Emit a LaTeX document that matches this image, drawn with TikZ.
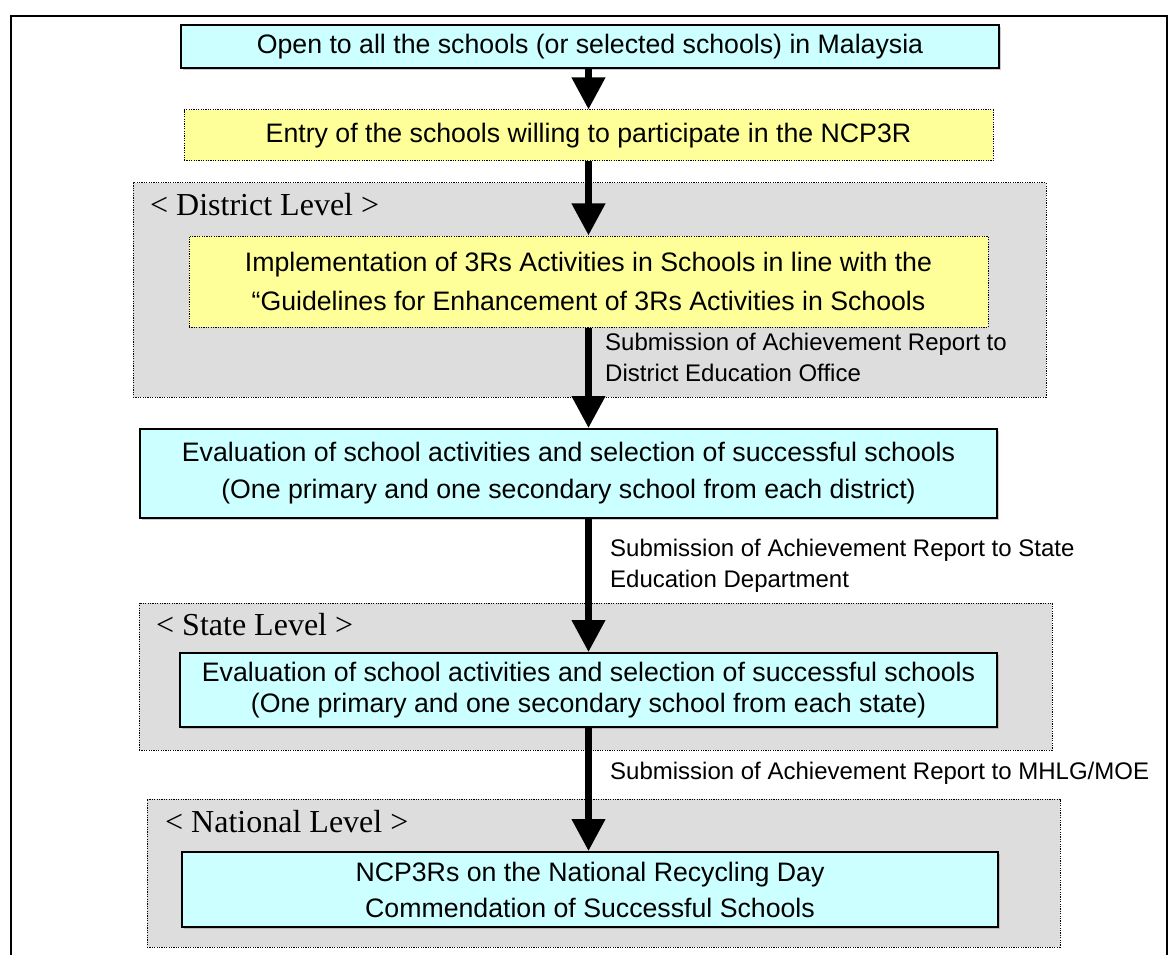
\documentclass[tikz,border=0pt]{standalone}
\usepackage{fontspec}
\setmainfont{Liberation Sans}
\newfontfamily\levelfont{Liberation Serif}
\usepackage{tikz}
\usetikzlibrary{arrows.meta, calc, shadows}

\definecolor{boxcyan}{RGB}{204,255,255}
\definecolor{boxyellow}{RGB}{255,255,153}
\definecolor{panelgrey}{RGB}{221,221,221}

\begin{document}
\begin{tikzpicture}[x=1pt, y=-1pt,
		cyanbox/.style={draw, line width=1.8pt, fill=boxcyan, inner sep=0pt, align=center,
			font=\fontsize{26.7pt}{32pt}\selectfont,
			drop shadow={shadow xshift=2pt, shadow yshift=-2pt, fill=black!40}},
		yellowbox/.style={draw, line width=1pt, dash pattern=on 1.2pt off 1.2pt, fill=boxyellow,
			inner sep=0pt, align=center, font=\fontsize{26.7pt}{39pt}\selectfont},
		panel/.style={draw, line width=1pt, dash pattern=on 1.2pt off 1.2pt, fill=panelgrey, inner sep=0pt},
		levellabel/.style={anchor=west, inner sep=0pt, font=\levelfont\fontsize{32pt}{38pt}\selectfont},
		steplabel/.style={anchor=west, inner sep=0pt, align=left, font=\fontsize{24pt}{31pt}\selectfont},
		flow/.style={line width=7pt, -{Triangle[width=32pt, length=32pt]}}]
			\useasboundingbox (0,0) rectangle (1168,955);
			
			% outer frame
			\draw[line width=2pt] (11,955) -- (11,16) -- (1166.5,16) -- (1166.5,955);
			
			% grey level panels
			\node[panel, minimum width=913pt, minimum height=214pt] (district) at (589.5, 290) {};
			\node[panel, minimum width=913pt, minimum height=147pt] (state) at (595.5, 676.5) {};
			\node[panel, minimum width=913pt, minimum height=148pt] (national) at (603.5, 873) {};
			
			\node[levellabel] (districtlabel) at (150, 205) {< District Level >};
			\node[levellabel] (statelabel) at (156, 625) {< State Level >};
			\node[levellabel] (nationallabel) at (165, 822) {< National Level >};
			
			% steps
			\node[cyanbox, minimum width=818pt, minimum height=43pt] (open) at (590, 46.5)
				{Open to all the schools (or selected schools) in Malaysia};
			
			\node[yellowbox, minimum width=809pt, minimum height=51pt] (entry) at (588.5, 135.5)
				{Entry of the schools willing to participate in the NCP3R};
			
			\node[yellowbox, minimum width=799pt, minimum height=91pt] (implement) at (588.5, 281.5)
				{Implementation of 3Rs Activities in Schools in line with the\\
				 “Guidelines for Enhancement of 3Rs Activities in Schools};
			
			\node[cyanbox, minimum width=857pt, minimum height=89pt,
				font=\fontsize{26.7pt}{37pt}\selectfont] (evaldistrict) at (568.5, 473.5)
				{Evaluation of school activities and selection of successful schools\\
				 (One primary and one secondary school from each district)};
			
			\node[cyanbox, minimum width=817pt, minimum height=74pt,
				font=\fontsize{26.7pt}{31pt}\selectfont] (evalstate) at (588.5, 690)
				{Evaluation of school activities and selection of successful schools\\
				 (One primary and one secondary school from each state)};
			
			\node[cyanbox, minimum width=816pt, minimum height=75pt,
				font=\fontsize{26.7pt}{36pt}\selectfont] (commend) at (590, 889.5)
				{NCP3Rs on the National Recycling Day\\
				 Commendation of Successful Schools};
			
			% arrows
			\draw[flow] (open.south -| entry.north) -- (entry.north);
			\draw[flow] (entry.south) -- (implement.north);
			\draw[flow] (implement.south) -- (implement.south |- evaldistrict.north);
			\draw[flow] (evalstate.north |- evaldistrict.south) -- (evalstate.north);
			\draw[flow] (evalstate.south) -- (evalstate.south |- commend.north);
			
			\node[steplabel] (todistrict) at (605, 357.5)
				{Submission of Achievement Report to\\District Education Office};
			\node[steplabel] (tostate) at (610, 566)
				{Submission of Achievement Report to State\\Education Department};
			\node[steplabel] (toministry) at (610, 773)
				{Submission of Achievement Report to MHLG/MOE};
		\end{tikzpicture}
\end{document}
